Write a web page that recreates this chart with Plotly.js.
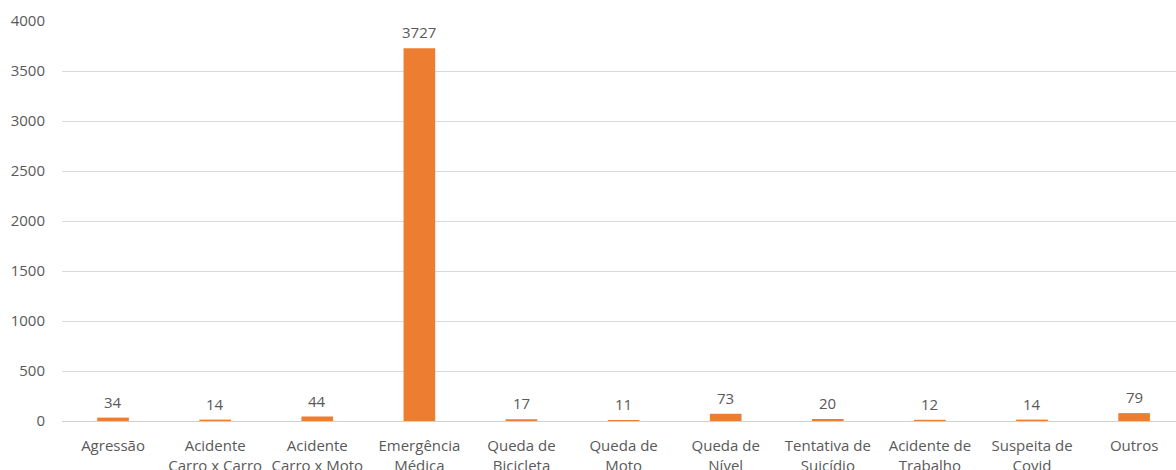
<!DOCTYPE html>
<html><head><meta charset="utf-8">
<script src="https://cdn.plot.ly/plotly-3.0.1.min.js"></script>
<style>html,body{margin:0;padding:0;overflow:hidden;background:#fff}</style>
</head><body>
<div id="chart" style="width:1176px;height:470px"></div>
<script>
const categories = ["Agressão","Acidente<br>Carro x Carro","Acidente<br>Carro x Moto","Emergência<br>Médica","Queda de<br>Bicicleta","Queda de<br>Moto","Queda de<br>Nível","Tentativa de<br>Suicídio","Acidente de<br>Trabalho","Suspeita de<br>Covid","Outros"];
const values = [34,14,44,3727,17,11,73,20,12,14,79];
const yTicks = [0,500,1000,1500,2000,2500,3000,3500,4000];

const FONT = "Open Sans, Noto Sans, sans-serif";
const GRAY = "#595959";

const trace = {
  type: "bar",
  x: categories.map((c,i)=>i),
  y: values,
  marker: {color: "#ED7D31"},
  width: 0.31,
  hoverinfo: "none"
};

const annotations = values.map((v,i)=>({
  x: i, y: v, xref: "x", yref: "y",
  text: String(v), showarrow: false,
  yanchor: "bottom", yshift: 4,
  font: {family: FONT, size: 15, color: GRAY}
}));

const layout = {
  width: 1176, height: 470,
  margin: {l: 62, r: 0, t: 21, b: 49},
  paper_bgcolor: "#fff", plot_bgcolor: "#fff",
  showlegend: false,
  font: {family: FONT, size: 15, color: GRAY},
  xaxis: {
    range: [-0.5, 10.41],
    tickmode: "array",
    tickvals: categories.map((c,i)=>i),
    ticktext: categories,
    showgrid: false, zeroline: false,
    showline: false, ticks: "",
    ticklabelstandoff: 14,
    tickfont: {family: FONT, size: 15, color: GRAY},
    fixedrange: true
  },
  yaxis: {
    range: [0, 4000],
    tickmode: "array",
    tickvals: yTicks,
    ticktext: yTicks.map(String),
    showgrid: true, gridcolor: "#D9D9D9", gridwidth: 1,
    zeroline: true, zerolinecolor: "#D0D0D0", zerolinewidth: 1,
    showline: false, ticks: "",
    ticklabelstandoff: 16,
    tickfont: {family: FONT, size: 15, color: GRAY},
    fixedrange: true
  },
  annotations: annotations,
  bargap: 0.69
};

Plotly.newPlot("chart", [trace], layout, {displayModeBar: false, staticPlot: true});
</script>
</body></html>
